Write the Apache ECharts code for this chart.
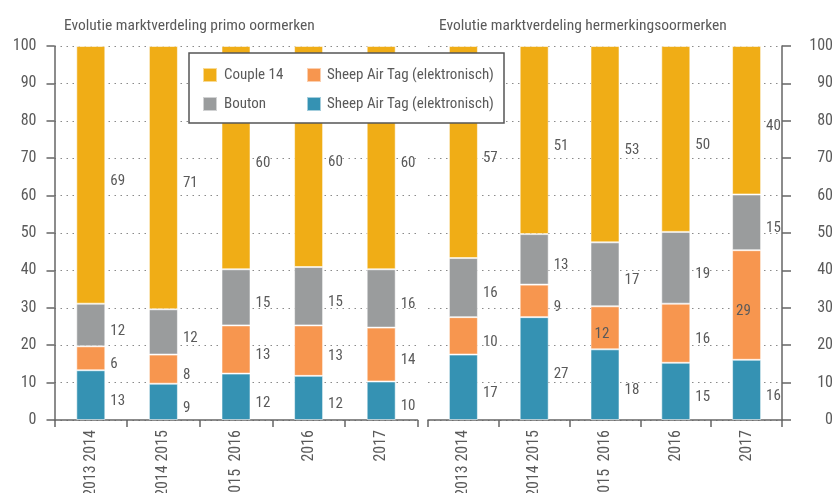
<!DOCTYPE html>
<html>
<head>
<meta charset="utf-8">
<script src="https://cdn.jsdelivr.net/npm/echarts@6/dist/echarts.min.js"></script>
<style>html,body{margin:0;padding:0;background:#fff}#c{width:837px;height:493px}</style>
</head>
<body>
<div id="c"></div>
<script>
const categories = ['2013 2014', '2014 2015', '2015  2016', '2016', '2017'];
const yTicks = [0, 10, 20, 30, 40, 50, 60, 70, 80, 90, 100];
const seriesNames = ['Sheep Air Tag (elektronisch) ', 'Sheep Air Tag (elektronisch)', 'Bouton', 'Couple 14'];
const titleLeft = 'Evolutie marktverdeling primo oormerken';
const titleRight = 'Evolutie marktverdeling hermerkingsoormerken';

// primo oormerken (bar heights, labels as printed)
const primoTeal = [13.3, 9.7, 12.4, 11.8, 10.3];
const primoOrange = [6.4, 7.8, 12.9, 13.5, 14.4];
const primoGray = [11.4, 12.1, 15.0, 15.6, 15.6];
const primoYellow = [68.9, 70.4, 59.7, 59.1, 59.7];
const primoTealLbl = [13, 9, 12, 12, 10];
const primoOrangeLbl = [6, 8, 13, 13, 14];
const primoGrayLbl = [12, 12, 15, 15, 16];
const primoYellowLbl = [69, 71, 60, 60, 60];

// hermerkingsoormerken
const herTeal = [17.5, 27.5, 18.9, 15.3, 16.1];
const herOrange = [10.0, 8.7, 11.5, 15.8, 29.3];
const herGray = [15.8, 13.5, 17.1, 19.2, 14.9];
const herYellow = [56.7, 50.3, 52.5, 49.7, 39.7];
const herTealLbl = [17, 27, 18, 15, 16];
const herOrangeLbl = [10, 9, 12, 16, 29];
const herGrayLbl = [16, 13, 17, 19, 15];
const herYellowLbl = [57, 51, 53, 50, 40];
const herOrangeInside = [2, 4];

// pick the narrowest-looking installed font
const cv = document.createElement('canvas').getContext('2d');
function w(font, s) { cv.font = font; return cv.measureText(s).width; }
function has(f) {
  const t = 'mmmmmlllii 0123456789';
  return w("40px '" + f + "', monospace", t) !== w('40px monospace', t) ||
         w("40px '" + f + "', serif", t) !== w('40px serif', t);
}
const cands = ['Liberation Sans Narrow', 'Arial Narrow', 'Roboto Condensed', 'Noto Sans Condensed', 'Open Sans Condensed', 'DejaVu Sans Condensed', 'Liberation Sans'];
const FAM = cands.find(has) || 'sans-serif';
const FONT = "'" + FAM + "', sans-serif";
function sizeFor(text, targetW, boost) {
  const s = targetW / w('100px ' + FONT, text) * 100 * boost;
  return Math.round(s * 2) / 2;
}
const FS_TITLE = sizeFor(titleLeft, 247, 1.0);
const FS_LEGEND = sizeFor('Sheep Air Tag (elektronisch)', 169, 1.0);
const FS_TICK = sizeFor('100', 20, 1.2);
const FS_LABEL = sizeFor('69', 12.3, 1.2);

const TXT = '#5a5a5a';
const colors = ['#3592B3', '#F7964F', '#9A9C9D', '#F0AD16'];

const chart = echarts.init(document.getElementById('c'));

function mkSeries(values, labels, idx, grid, insideIdx) {
  return {
    type: 'bar',
    name: seriesNames[idx],
    stack: 's' + grid,
    xAxisIndex: grid,
    yAxisIndex: grid,
    barWidth: 29,
    itemStyle: { color: colors[idx], borderColor: 'rgba(255,255,255,0.55)', borderWidth: 1 },
    label: {
      show: true,
      position: 'right',
      distance: 5,
      offset: [0, 6],
      color: TXT,
      fontFamily: FONT,
      fontSize: FS_LABEL,
      formatter: p => String(labels[p.dataIndex])
    },
    data: values.map((v, i) => (insideIdx && insideIdx.includes(i))
      ? { value: v, label: { position: 'insideLeft', distance: 4 } }
      : v)
  };
}

const axisLineStyle = { color: '#666', width: 1.5 };
const xAxisBase = {
  type: 'category',
  data: categories,
  axisLine: { lineStyle: axisLineStyle },
  axisTick: { show: true, length: 7, lineStyle: axisLineStyle },
  axisLabel: { rotate: 90, color: TXT, fontFamily: FONT, fontSize: FS_TICK, margin: 10 },
  splitLine: { show: false }
};
const splitLine = { show: true, lineStyle: { color: '#8a8a8a', type: [1.5, 4.5], width: 1 } };

chart.setOption({
  animation: false,
  textStyle: { fontFamily: FONT },
  title: [
    { text: titleLeft, left: 59, top: 13, textStyle: { color: TXT, fontFamily: FONT, fontSize: FS_TITLE, fontWeight: 'normal' } },
    { text: titleRight, left: 434, top: 13, textStyle: { color: TXT, fontFamily: FONT, fontSize: FS_TITLE, fontWeight: 'normal' } }
  ],
  grid: [
    { left: 54.5, top: 46, width: 363, height: 374, outerBoundsMode: 'none', containLabel: false },
    { left: 428, top: 46, width: 354, height: 374, outerBoundsMode: 'none', containLabel: false }
  ],
  xAxis: [
    Object.assign({ gridIndex: 0 }, xAxisBase),
    Object.assign({ gridIndex: 1 }, xAxisBase)
  ],
  yAxis: [
    {
      gridIndex: 0, type: 'value', min: 0, max: 100, interval: 10, position: 'left',
      axisLine: { show: true, lineStyle: axisLineStyle },
      axisTick: { show: true, length: 8, lineStyle: axisLineStyle },
      axisLabel: { color: TXT, fontFamily: FONT, fontSize: FS_TICK, margin: 18, formatter: v => yTicks.includes(v) ? String(v) : '' },
      splitLine: splitLine
    },
    {
      gridIndex: 1, type: 'value', min: 0, max: 100, interval: 10, position: 'right',
      axisLine: { show: true, lineStyle: axisLineStyle },
      axisTick: { show: true, length: 9, lineStyle: axisLineStyle },
      axisLabel: { color: TXT, fontFamily: FONT, fontSize: FS_TICK, margin: 51, align: 'right', formatter: v => yTicks.includes(v) ? String(v) : '' },
      splitLine: splitLine
    }
  ],
  legend: [
    {
      orient: 'vertical', left: 202, top: 67, padding: 0, itemWidth: 14, itemHeight: 14, itemGap: 13, z: 120,
      icon: 'rect', data: ['Couple 14', 'Bouton'],
      textStyle: { color: TXT, fontFamily: FONT, fontSize: FS_LEGEND, padding: [0, 0, 0, 2] }, selectedMode: false
    },
    {
      orient: 'vertical', left: 306, top: 67, padding: 0, itemWidth: 14, itemHeight: 14, itemGap: 13, z: 120,
      icon: 'rect', data: ['Sheep Air Tag (elektronisch)', 'Sheep Air Tag (elektronisch) '],
      textStyle: { color: TXT, fontFamily: FONT, fontSize: FS_LEGEND, padding: [0, 0, 0, 1] }, selectedMode: false
    }
  ],
  graphic: [
    { type: 'rect', z: 100, shape: { x: 189, y: 53, width: 315, height: 70 }, style: { fill: '#fff', stroke: '#555', lineWidth: 1.5 } }
  ],
  series: [
    mkSeries(primoTeal, primoTealLbl, 0, 0),
    mkSeries(primoOrange, primoOrangeLbl, 1, 0),
    mkSeries(primoGray, primoGrayLbl, 2, 0),
    mkSeries(primoYellow, primoYellowLbl, 3, 0),
    mkSeries(herTeal, herTealLbl, 0, 1),
    mkSeries(herOrange, herOrangeLbl, 1, 1, herOrangeInside),
    mkSeries(herGray, herGrayLbl, 2, 1),
    mkSeries(herYellow, herYellowLbl, 3, 1)
  ]
});
</script>
</body>
</html>
